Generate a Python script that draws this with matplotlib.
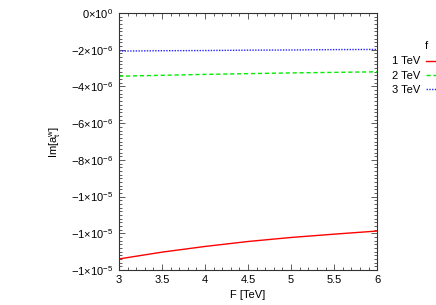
import matplotlib
matplotlib.use("Agg")
import matplotlib.pyplot as plt
from matplotlib.ticker import MultipleLocator

plt.rcParams['font.family'] = ['Liberation Sans', 'DejaVu Sans']
plt.rcParams['mathtext.fontset'] = 'custom'
plt.rcParams['mathtext.rm'] = 'Liberation Sans'
plt.rcParams['mathtext.it'] = 'Liberation Sans'
plt.rcParams['font.size'] = 8

F = [3.0, 3.5, 4.0, 4.5, 5.0, 5.5, 6.0]
im_1tev = [-13.40e-6, -13.03e-6, -12.72e-6, -12.45e-6, -12.23e-6, -12.05e-6, -11.88e-6]
im_2tev = [-3.44e-6, -3.39e-6, -3.34e-6, -3.30e-6, -3.26e-6, -3.23e-6, -3.20e-6]
im_3tev = [-2.07e-6, -2.05e-6, -2.04e-6, -2.02e-6, -2.01e-6, -1.99e-6, -1.98e-6]

yticks = [0, -2e-6, -4e-6, -6e-6, -8e-6, -1e-5, -1.2e-5, -1.4e-5]
ytick_labels = [r'0$\times$10$^{0}$', r'$-$2$\times$10$^{-6}$', r'$-$4$\times$10$^{-6}$',
                r'$-$6$\times$10$^{-6}$', r'$-$8$\times$10$^{-6}$', r'$-$1$\times$10$^{-5}$',
                r'$-$1$\times$10$^{-5}$', r'$-$1$\times$10$^{-5}$']
xticks = [3, 3.5, 4, 4.5, 5, 5.5, 6]
xtick_labels = ['3', '3.5', '4', '4.5', '5', '5.5', '6']

fig = plt.figure(figsize=(4.36, 3.05), dpi=100)
ax = fig.add_axes([0.273, 0.115, 0.592, 0.842])

l1, = ax.plot(F, im_1tev, color='#ff0000', lw=1.0, label='1 TeV')
l2, = ax.plot(F, im_2tev, color='#00ee00', lw=1.0, ls=(0, (3, 2)), label='2 TeV')
l3, = ax.plot(F, im_3tev, color='#2222ff', lw=1.0, ls=(0, (1, 1)), label='3 TeV')

ax.set_xlim(3, 6)
ax.set_ylim(-1.4e-5, 0)
ax.set_xticks(xticks)
ax.set_xticklabels(xtick_labels)
ax.set_yticks(yticks)
ax.set_yticklabels(ytick_labels)
ax.xaxis.set_minor_locator(MultipleLocator(0.1))
ax.yaxis.set_minor_locator(MultipleLocator(2e-7))
ax.tick_params(which='both', direction='in', top=True, right=True, width=0.6, color='#444444')
ax.tick_params(which='major', length=4, pad=4)
ax.tick_params(which='minor', length=2)
for s in ax.spines.values():
    s.set_linewidth(0.8)
    s.set_color('#333333')

ax.set_xlabel('F [TeV]', labelpad=3)
ax.set_ylabel(r'Im[a$_\mathrm{t}^\mathrm{w}$]', labelpad=6)

leg = fig.legend(handles=[l1, l2, l3], loc='upper left',
                 bbox_to_anchor=(0.9, 0.815), frameon=False, markerfirst=False,
                 handlelength=2.0, handletextpad=0.45, labelspacing=0.4,
                 fontsize=8, borderaxespad=0, borderpad=0)
fig.text(426 / 436, 1 - 46 / 305, 'f', ha='center', va='center', fontsize=8)

fig.savefig('out.png', dpi=100)
